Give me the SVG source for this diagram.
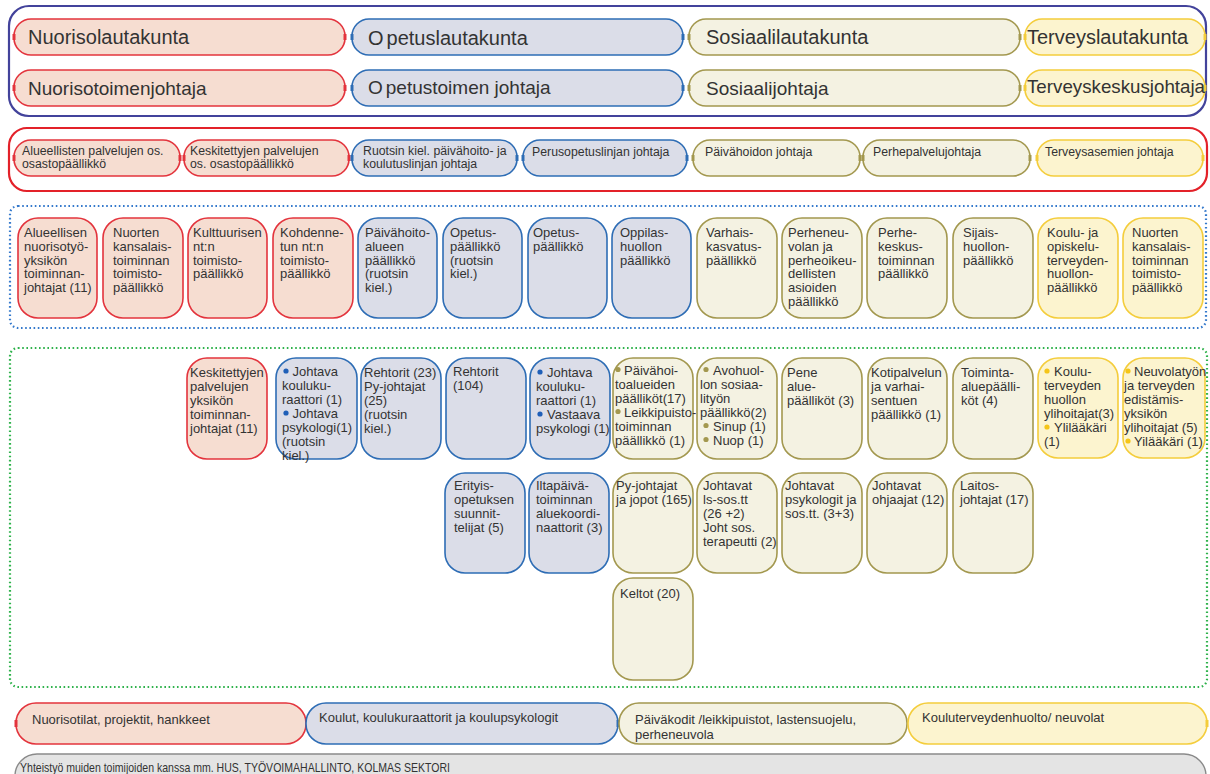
<svg xmlns="http://www.w3.org/2000/svg" width="1210" height="774" viewBox="0 0 1210 774">
<style>
text { font-family: "Liberation Sans", Arial, sans-serif; fill: #333333; }
.f20 { font-size: 20px; }
.f19 { font-size: 19px; }
.f13 { font-size: 13px; }
.fs { font-size: 12.3px; }
.r { fill: #f6ddd1; stroke: #e3343d; stroke-width: 1.6; }
.b { fill: #dbdde8; stroke: #2e6db5; stroke-width: 1.6; }
.o { fill: #f4f2e2; stroke: #a3984f; stroke-width: 1.6; }
.y { fill: #fcf4cf; stroke: #f4cd3c; stroke-width: 1.6; }
.g { fill: #e4e4e4; stroke: #8a8a8a; stroke-width: 1.4; }
.tr { stroke: #e3343d; stroke-width: 3; }
.tb { stroke: #2e6db5; stroke-width: 3; }
.to { stroke: #a3984f; stroke-width: 3; }
.ty { stroke: #f4cd3c; stroke-width: 3; }
.db { fill: #1f5fb8; }
.do { fill: #a3984f; }
.dy { fill: #f5c518; }
.frame { fill: none; stroke-width: 2.2; }
</style>

<g id="frames">
  <rect class="frame" x="9" y="6" width="1197" height="110" rx="20" stroke="#43439b"/>
  <rect class="frame" x="9" y="128" width="1198" height="63" rx="18" stroke="#e32129"/>
  <rect class="frame" x="10" y="206" width="1196" height="122" rx="8" stroke="#3479cc" stroke-width="2" stroke-dasharray="1.6 2.6"/>
  <rect class="frame" x="10" y="348" width="1197" height="339" rx="8" stroke="#2fb24c" stroke-width="2" stroke-dasharray="1.6 2.6"/>
</g>

<g id="connectors"></g>

<!-- Row 1: boards -->
<g id="n-nuorisolautakunta">
  <rect class="r" x="14" y="19" width="331" height="36" rx="17"/>
  <line class="tr" x1="14" y1="34" x2="14" y2="40"/><line class="tr" x1="345" y1="34" x2="345" y2="40"/>
  <text class="f20" x="28" y="44">Nuorisolautakunta</text>
</g>
<g id="n-opetuslautakunta">
  <rect class="b" x="352" y="19" width="331" height="36" rx="17"/>
  <line class="tb" x1="352" y1="34" x2="352" y2="40"/><line class="tb" x1="683" y1="34" x2="683" y2="40"/>
  <text class="f20" x="368" y="45"><tspan>O</tspan><tspan dx="3">petuslautakunta</tspan></text>
</g>
<g id="n-sosiaalilautakunta">
  <rect class="o" x="689" y="19" width="331" height="36" rx="17"/>
  <line class="to" x1="689" y1="34" x2="689" y2="40"/><line class="to" x1="1020" y1="34" x2="1020" y2="40"/>
  <text class="f20" x="706" y="44">Sosiaalilautakunta</text>
</g>
<g id="n-terveyslautakunta">
  <rect class="y" x="1025" y="19" width="180" height="36" rx="17"/>
  <line class="ty" x1="1025" y1="34" x2="1025" y2="40"/><line class="ty" x1="1205" y1="34" x2="1205" y2="40"/>
  <text class="f20" x="1027" y="44">Terveyslautakunta</text>
</g>

<!-- Row 2: directors -->
<g id="n-nuorisotoimenjohtaja">
  <rect class="r" x="14" y="70" width="331" height="36" rx="17"/>
  <line class="tr" x1="14" y1="85" x2="14" y2="91"/><line class="tr" x1="345" y1="85" x2="345" y2="91"/>
  <text class="f19" x="28" y="94.5">Nuorisotoimenjohtaja</text>
</g>
<g id="n-opetustoimenjohtaja">
  <rect class="b" x="352" y="70" width="331" height="36" rx="17"/>
  <line class="tb" x1="352" y1="85" x2="352" y2="91"/><line class="tb" x1="683" y1="85" x2="683" y2="91"/>
  <text class="f19" x="368" y="94"><tspan>O</tspan><tspan dx="3">petustoimen johtaja</tspan></text>
</g>
<g id="n-sosiaalijohtaja">
  <rect class="o" x="689" y="70" width="331" height="36" rx="17"/>
  <line class="to" x1="689" y1="85" x2="689" y2="91"/><line class="to" x1="1020" y1="85" x2="1020" y2="91"/>
  <text class="f19" x="706" y="95">Sosiaalijohtaja</text>
</g>
<g id="n-terveyskeskusjohtaja">
  <rect class="y" x="1025" y="70" width="180" height="36" rx="17"/>
  <line class="ty" x1="1025" y1="85" x2="1025" y2="91"/><line class="ty" x1="1205" y1="85" x2="1205" y2="91"/>
  <text class="f19" x="1027" y="93" textLength="178" lengthAdjust="spacingAndGlyphs">Terveyskeskusjohtaja</text>
</g>

<!-- Red frame row -->
<g id="n-alueellisten-osastopaallikko">
  <rect class="r" x="14" y="140" width="166" height="36" rx="17"/>
  <line class="tr" x1="14" y1="155" x2="14" y2="161"/><line class="tr" x1="180" y1="155" x2="180" y2="161"/>
  <text class="fs"><tspan x="22" y="154.5">Alueellisten palvelujen os.</tspan><tspan x="22" y="168">osastopäällikkö</tspan></text>
</g>
<g id="n-keskitettyjen-osastopaallikko">
  <rect class="r" x="184" y="140" width="165" height="36" rx="17"/>
  <line class="tr" x1="184" y1="155" x2="184" y2="161"/><line class="tr" x1="349" y1="155" x2="349" y2="161"/>
  <text class="fs"><tspan x="190" y="154.5">Keskitettyjen palvelujen</tspan><tspan x="190" y="168">os. osastopäällikkö</tspan></text>
</g>
<g id="n-ruotsin-linja">
  <rect class="b" x="352" y="140" width="165" height="36" rx="17"/>
  <line class="tb" x1="352" y1="155" x2="352" y2="161"/><line class="tb" x1="517" y1="155" x2="517" y2="161"/>
  <text class="fs"><tspan x="363" y="154.5">Ruotsin kiel. päivähoito- ja</tspan><tspan x="363" y="168">koulutuslinjan johtaja</tspan></text>
</g>
<g id="n-perusopetuslinja">
  <rect class="b" x="523" y="140" width="164" height="36" rx="17"/>
  <line class="tb" x1="523" y1="155" x2="523" y2="161"/><line class="tb" x1="687" y1="155" x2="687" y2="161"/>
  <text class="fs" x="532" y="156">Perusopetuslinjan johtaja</text>
</g>
<g id="n-paivahoidon-johtaja">
  <rect class="o" x="693" y="140" width="167" height="36" rx="17"/>
  <line class="to" x1="693" y1="155" x2="693" y2="161"/><line class="to" x1="860" y1="155" x2="860" y2="161"/>
  <text class="fs" x="705" y="156">Päivähoidon johtaja</text>
</g>
<g id="n-perhepalvelujohtaja">
  <rect class="o" x="863" y="140" width="167" height="36" rx="17"/>
  <line class="to" x1="863" y1="155" x2="863" y2="161"/><line class="to" x1="1030" y1="155" x2="1030" y2="161"/>
  <text class="fs" x="873" y="156">Perhepalvelujohtaja</text>
</g>
<g id="n-terveysasemien-johtaja">
  <rect class="y" x="1037" y="140" width="166" height="36" rx="17"/>
  <line class="ty" x1="1037" y1="155" x2="1037" y2="161"/><line class="ty" x1="1203" y1="155" x2="1203" y2="161"/>
  <text class="fs" x="1045" y="156">Terveysasemien johtaja</text>
</g>

<!-- Row 3 (blue dotted frame) -->
<g id="n-r3-1">
  <rect class="r" x="18" y="218" width="79" height="100" rx="20"/>
  <text class="f13"><tspan x="24" y="237">Alueellisen</tspan><tspan x="24" y="250.8">nuorisotyö-</tspan><tspan x="24" y="264.6">yksikön</tspan><tspan x="24" y="278.4">toiminnan-</tspan><tspan x="24" y="292.2">johtajat (11)</tspan></text>
</g>
<g id="n-r3-2">
  <rect class="r" x="103" y="218" width="80" height="100" rx="20"/>
  <text class="f13"><tspan x="113" y="237">Nuorten</tspan><tspan x="113" y="250.8">kansalais-</tspan><tspan x="113" y="264.6">toiminnan</tspan><tspan x="113" y="278.4">toimisto-</tspan><tspan x="113" y="292.2">päällikkö</tspan></text>
</g>
<g id="n-r3-3">
  <rect class="r" x="188" y="218" width="79" height="100" rx="20"/>
  <text class="f13"><tspan x="193" y="237">Kulttuurisen</tspan><tspan x="193" y="250.8">nt:n</tspan><tspan x="193" y="264.6">toimisto-</tspan><tspan x="193" y="278.4">päällikkö</tspan></text>
</g>
<g id="n-r3-4">
  <rect class="r" x="273" y="218" width="80" height="100" rx="20"/>
  <text class="f13"><tspan x="280" y="237">Kohdenne-</tspan><tspan x="280" y="250.8">tun nt:n</tspan><tspan x="280" y="264.6">toimisto-</tspan><tspan x="280" y="278.4">päällikkö</tspan></text>
</g>
<g id="n-r3-5">
  <rect class="b" x="358" y="218" width="79" height="100" rx="20"/>
  <text class="f13"><tspan x="365" y="237">Päivähoito-</tspan><tspan x="365" y="250.8">alueen</tspan><tspan x="365" y="264.6">päällikkö</tspan><tspan x="365" y="278.4">(ruotsin</tspan><tspan x="365" y="292.2">kiel.)</tspan></text>
</g>
<g id="n-r3-6">
  <rect class="b" x="443" y="218" width="79" height="100" rx="20"/>
  <text class="f13"><tspan x="450" y="237">Opetus-</tspan><tspan x="450" y="250.8">päällikkö</tspan><tspan x="450" y="264.6">(ruotsin</tspan><tspan x="450" y="278.4">kiel.)</tspan></text>
</g>
<g id="n-r3-7">
  <rect class="b" x="528" y="218" width="79" height="100" rx="20"/>
  <text class="f13"><tspan x="533" y="237">Opetus-</tspan><tspan x="533" y="250.8">päällikkö</tspan></text>
</g>
<g id="n-r3-8">
  <rect class="b" x="612" y="218" width="79" height="100" rx="20"/>
  <text class="f13"><tspan x="620" y="237">Oppilas-</tspan><tspan x="620" y="250.8">huollon</tspan><tspan x="620" y="264.6">päällikkö</tspan></text>
</g>
<g id="n-r3-9">
  <rect class="o" x="697" y="218" width="80" height="100" rx="20"/>
  <text class="f13"><tspan x="706" y="237">Varhais-</tspan><tspan x="706" y="250.8">kasvatus-</tspan><tspan x="706" y="264.6">päällikkö</tspan></text>
</g>
<g id="n-r3-10">
  <rect class="o" x="782" y="218" width="80" height="100" rx="20"/>
  <text class="f13"><tspan x="788" y="237">Perheneu-</tspan><tspan x="788" y="250.8">volan ja</tspan><tspan x="788" y="264.6">perheoikeu-</tspan><tspan x="788" y="278.4">dellisten</tspan><tspan x="788" y="292.2">asioiden</tspan><tspan x="788" y="306">päällikkö</tspan></text>
</g>
<g id="n-r3-11">
  <rect class="o" x="867" y="218" width="80" height="100" rx="20"/>
  <text class="f13"><tspan x="878" y="237">Perhe-</tspan><tspan x="878" y="250.8">keskus-</tspan><tspan x="878" y="264.6">toiminnan</tspan><tspan x="878" y="278.4">päällikkö</tspan></text>
</g>
<g id="n-r3-12">
  <rect class="o" x="953" y="218" width="80" height="100" rx="20"/>
  <text class="f13"><tspan x="963" y="237">Sijais-</tspan><tspan x="963" y="250.8">huollon-</tspan><tspan x="963" y="264.6">päällikkö</tspan></text>
</g>
<g id="n-r3-13">
  <rect class="y" x="1038" y="218" width="80" height="100" rx="20"/>
  <text class="f13"><tspan x="1047" y="237">Koulu- ja</tspan><tspan x="1047" y="250.8">opiskelu-</tspan><tspan x="1047" y="264.6">terveyden-</tspan><tspan x="1047" y="278.4">huollon-</tspan><tspan x="1047" y="292.2">päällikkö</tspan></text>
</g>
<g id="n-r3-14">
  <rect class="y" x="1123" y="218" width="80" height="100" rx="20"/>
  <text class="f13"><tspan x="1132" y="237">Nuorten</tspan><tspan x="1132" y="250.8">kansalais-</tspan><tspan x="1132" y="264.6">toiminnan</tspan><tspan x="1132" y="278.4">toimisto-</tspan><tspan x="1132" y="292.2">päällikkö</tspan></text>
</g>

<!-- Row 4 (green dotted frame) -->
<g id="n-r4-1">
  <rect class="r" x="187" y="358" width="80" height="101" rx="20"/>
  <text class="f13"><tspan x="190" y="377">Keskitettyjen</tspan><tspan x="190" y="391">palvelujen</tspan><tspan x="190" y="405">yksikön</tspan><tspan x="190" y="419">toiminnan-</tspan><tspan x="190" y="433">johtajat (11)</tspan></text>
</g>
<g id="n-r4-2">
  <rect class="b" x="276" y="358" width="81" height="101" rx="20"/>
  <circle class="db" cx="286" cy="371" r="2.6"/><circle class="db" cx="286" cy="413" r="2.6"/>
  <text class="f13"><tspan x="292.5" y="376">Johtava</tspan><tspan x="282" y="390">kouluku-</tspan><tspan x="282" y="404">raattori (1)</tspan><tspan x="292.5" y="418">Johtava</tspan><tspan x="282" y="432">psykologi(1)</tspan><tspan x="282" y="446">(ruotsin</tspan><tspan x="282" y="460">kiel.)</tspan></text>
</g>
<g id="n-r4-3">
  <rect class="b" x="361" y="358" width="80" height="101" rx="20"/>
  <text class="f13"><tspan x="364" y="377">Rehtorit (23)</tspan><tspan x="364" y="391">Py-johtajat</tspan><tspan x="364" y="405">(25)</tspan><tspan x="364" y="419">(ruotsin</tspan><tspan x="364" y="433">kiel.)</tspan></text>
</g>
<g id="n-r4-4">
  <rect class="b" x="446" y="358" width="80" height="101" rx="20"/>
  <text class="f13"><tspan x="453" y="376">Rehtorit</tspan><tspan x="453" y="390">(104)</tspan></text>
</g>
<g id="n-r4-5">
  <rect class="b" x="530" y="358" width="80" height="101" rx="20"/>
  <circle class="db" cx="540" cy="372" r="2.6"/><circle class="db" cx="540" cy="414" r="2.6"/>
  <text class="f13"><tspan x="547" y="377">Johtava</tspan><tspan x="536" y="391">kouluku-</tspan><tspan x="536" y="405">raattori (1)</tspan><tspan x="547" y="419">Vastaava</tspan><tspan x="536" y="433">psykologi (1)</tspan></text>
</g>
<g id="n-r4-6">
  <rect class="o" x="613" y="358" width="80" height="101" rx="20"/>
  <circle class="do" cx="618" cy="369.5" r="2.6"/><circle class="do" cx="618" cy="411.5" r="2.6"/>
  <text class="f13"><tspan x="624" y="375">Päivähoi-</tspan><tspan x="615" y="389">toalueiden</tspan><tspan x="615" y="403">päälliköt(17)</tspan><tspan x="624" y="417">Leikkipuisto-</tspan><tspan x="615" y="431">toiminnan</tspan><tspan x="615" y="445">päällikkö (1)</tspan></text>
</g>
<g id="n-r4-7">
  <rect class="o" x="697" y="358" width="80" height="101" rx="20"/>
  <circle class="do" cx="706" cy="369.5" r="2.6"/><circle class="do" cx="706" cy="425.5" r="2.6"/><circle class="do" cx="706" cy="439.5" r="2.6"/>
  <text class="f13"><tspan x="713" y="375">Avohuol-</tspan><tspan x="700" y="389">lon sosiaa-</tspan><tspan x="700" y="403">lityön</tspan><tspan x="700" y="417">päällikkö(2)</tspan><tspan x="713" y="431">Sinup (1)</tspan><tspan x="713" y="445">Nuop (1)</tspan></text>
</g>
<g id="n-r4-8">
  <rect class="o" x="782" y="358" width="80" height="101" rx="20"/>
  <text class="f13"><tspan x="787" y="377">Pene</tspan><tspan x="787" y="391">alue-</tspan><tspan x="787" y="405">päälliköt (3)</tspan></text>
</g>
<g id="n-r4-9">
  <rect class="o" x="868" y="358" width="79" height="101" rx="20"/>
  <text class="f13"><tspan x="871" y="377">Kotipalvelun</tspan><tspan x="871" y="391">ja varhai-</tspan><tspan x="871" y="405">sentuen</tspan><tspan x="871" y="419">päällikkö (1)</tspan></text>
</g>
<g id="n-r4-10">
  <rect class="o" x="953" y="358" width="80" height="101" rx="20"/>
  <text class="f13"><tspan x="961" y="377">Toiminta-</tspan><tspan x="961" y="391">aluepäälli-</tspan><tspan x="961" y="405">köt (4)</tspan></text>
</g>
<g id="n-r4-11">
  <rect class="y" x="1038" y="358" width="80" height="100" rx="20"/>
  <circle class="dy" cx="1047" cy="371" r="2.6"/><circle class="dy" cx="1047" cy="427" r="2.6"/>
  <text class="f13"><tspan x="1054" y="376">Koulu-</tspan><tspan x="1044" y="390">terveyden</tspan><tspan x="1044" y="404">huollon</tspan><tspan x="1044" y="418">ylihoitajat(3)</tspan><tspan x="1054" y="432">Ylilääkäri</tspan><tspan x="1044" y="446">(1)</tspan></text>
</g>
<g id="n-r4-12">
  <rect class="y" x="1123" y="358" width="82" height="100" rx="20"/>
  <circle class="dy" cx="1128" cy="371" r="2.6"/><circle class="dy" cx="1128" cy="441" r="2.6"/>
  <text class="f13"><tspan x="1134" y="376">Neuvolatyön</tspan><tspan x="1124" y="390">ja terveyden</tspan><tspan x="1124" y="404">edistämis-</tspan><tspan x="1124" y="418">yksikön</tspan><tspan x="1124" y="432">ylihoitajat (5)</tspan><tspan x="1134" y="446">Yilääkäri (1)</tspan></text>
</g>

<!-- Row 5 -->
<g id="n-r5-1">
  <rect class="b" x="445" y="473" width="80" height="100" rx="20"/>
  <text class="f13"><tspan x="454" y="490">Erityis-</tspan><tspan x="454" y="504">opetuksen</tspan><tspan x="454" y="518">suunnit-</tspan><tspan x="454" y="532">telijat (5)</tspan></text>
</g>
<g id="n-r5-2">
  <rect class="b" x="529" y="473" width="80" height="100" rx="20"/>
  <text class="f13"><tspan x="536" y="490">Iltapäivä-</tspan><tspan x="536" y="504">toiminnan</tspan><tspan x="536" y="518">aluekoordi-</tspan><tspan x="536" y="532">naattorit (3)</tspan></text>
</g>
<g id="n-r5-3">
  <rect class="o" x="613" y="473" width="80" height="100" rx="20"/>
  <text class="f13"><tspan x="616" y="490">Py-johtajat</tspan><tspan x="616" y="504">ja jopot (165)</tspan></text>
</g>
<g id="n-r5-4">
  <rect class="o" x="697" y="473" width="80" height="100" rx="20"/>
  <text class="f13"><tspan x="703" y="490">Johtavat</tspan><tspan x="703" y="504">ls-sos.tt</tspan><tspan x="703" y="518">(26 +2)</tspan><tspan x="703" y="532">Joht sos.</tspan><tspan x="703" y="546">terapeutti (2)</tspan></text>
</g>
<g id="n-r5-5">
  <rect class="o" x="782" y="473" width="80" height="100" rx="20"/>
  <text class="f13"><tspan x="785" y="490">Johtavat</tspan><tspan x="785" y="504">psykologit ja</tspan><tspan x="785" y="518">sos.tt. (3+3)</tspan></text>
</g>
<g id="n-r5-6">
  <rect class="o" x="867" y="473" width="80" height="100" rx="20"/>
  <text class="f13"><tspan x="872" y="490">Johtavat</tspan><tspan x="872" y="504">ohjaajat (12)</tspan></text>
</g>
<g id="n-r5-7">
  <rect class="o" x="953" y="473" width="80" height="100" rx="20"/>
  <text class="f13"><tspan x="960" y="490">Laitos-</tspan><tspan x="960" y="504">johtajat (17)</tspan></text>
</g>
<g id="n-keltot">
  <rect class="o" x="613" y="578" width="80" height="102" rx="20"/>
  <text class="f13" x="620" y="598">Keltot (20)</text>
</g>

<!-- Bottom row -->
<g id="n-nuorisotilat">
  <rect class="r" x="16" y="703" width="290" height="41" rx="20"/>
  <line class="tr" x1="16" y1="720" x2="16" y2="727"/>
  <text class="f13" x="32" y="724">Nuorisotilat, projektit, hankkeet</text>
</g>
<g id="n-koulut">
  <rect class="b" x="306" y="703" width="312" height="41" rx="20"/>
  <line class="tb" x1="618" y1="720" x2="618" y2="727"/>
  <text class="f13" x="319" y="722">Koulut, koulukuraattorit ja koulupsykologit</text>
</g>
<g id="n-paivakodit">
  <rect class="o" x="619" y="703" width="288" height="41" rx="20"/>
  <text class="f13"><tspan x="635" y="724">Päiväkodit /leikkipuistot, lastensuojelu,</tspan><tspan x="635" y="739">perheneuvola</tspan></text>
</g>
<g id="n-kouluterveydenhuolto">
  <rect class="y" x="908" y="703" width="299" height="41" rx="20"/>
  <line class="ty" x1="1207" y1="720" x2="1207" y2="727"/>
  <text class="f13" x="922" y="722">Kouluterveydenhuolto/ neuvolat</text>
</g>
<g id="n-yhteistyo">
  <rect class="g" x="15" y="754" width="1191" height="44" rx="22"/>
  <text x="20" y="772" font-size="13.5" textLength="430" lengthAdjust="spacingAndGlyphs">Yhteistyö muiden toimijoiden kanssa mm. HUS, TYÖVOIMAHALLINTO, KOLMAS SEKTORI</text>
</g>
</svg>
